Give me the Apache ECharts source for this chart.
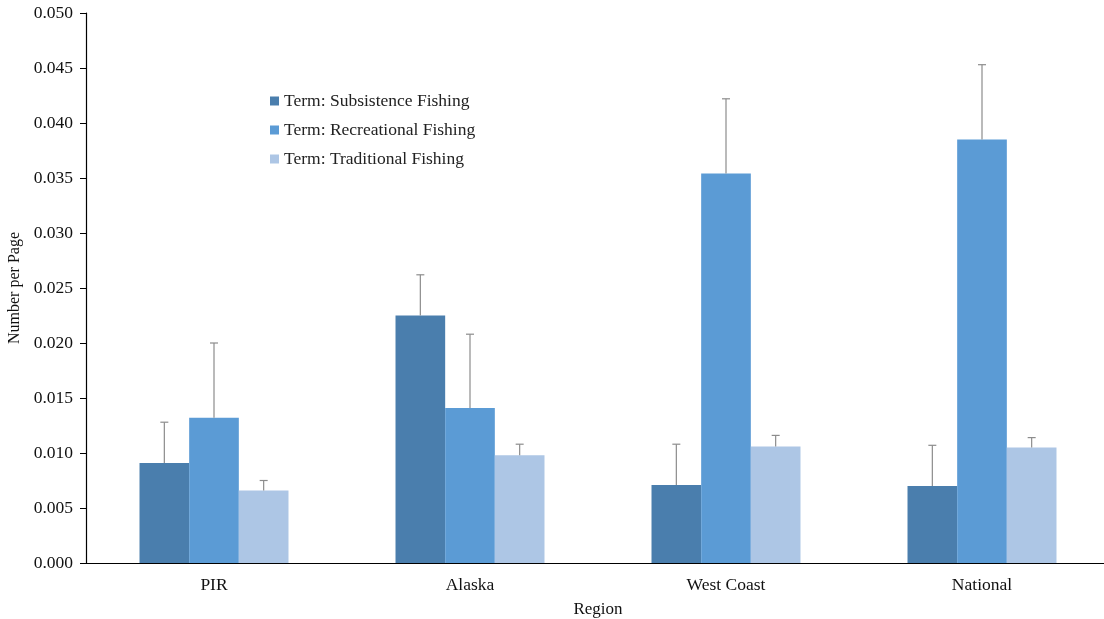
<!DOCTYPE html>
<html>
<head>
<meta charset="utf-8">
<script src="https://cdn.jsdelivr.net/npm/echarts@6/dist/echarts.min.js"></script>
<style>html,body{margin:0;padding:0;background:#fff}#c{width:1104px;height:619px}</style>
</head>
<body>
<div id="c"></div>
<script>
const categories = ['PIR', 'Alaska', 'West Coast', 'National'];
const seriesNames = ['Term: Subsistence Fishing', 'Term: Recreational Fishing', 'Term: Traditional Fishing'];
const subsistence = [0.0091, 0.0225, 0.0071, 0.0070];
const recreational = [0.0132, 0.0141, 0.0354, 0.0385];
const traditional = [0.0066, 0.0098, 0.0106, 0.0105];
const subsistenceErr = [0.0037, 0.0037, 0.0037, 0.0037];
const recreationalErr = [0.0068, 0.0067, 0.0068, 0.0068];
const traditionalErr = [0.0009, 0.0010, 0.0010, 0.0009];
const yTicks = ['0.000','0.005','0.010','0.015','0.020','0.025','0.030','0.035','0.040','0.045','0.050'];

const colors = ['#4a7ead', '#5b9bd5', '#adc6e5'];
const values = [subsistence, recreational, traditional];
const errors = [subsistenceErr, recreationalErr, traditionalErr];
const BAR_FRAC = 0.194;
const font = 'Liberation Serif';

const chart = echarts.init(document.getElementById('c'));

function errSeries(idx) {
  const data = values[idx].map((v, i) => [i, v, v + errors[idx][i]]);
  return {
    type: 'custom',
    name: 'err' + idx,
    silent: true,
    z: 10,
    data: data,
    encode: { x: 0, y: [1, 2] },
    renderItem: function (params, api) {
      const ci = api.value(0);
      const band = api.size([1, 0])[0];
      const off = (idx - 1) * band * BAR_FRAC;
      const lo = api.coord([ci, api.value(1)]);
      const hi = api.coord([ci, api.value(2)]);
      const x = lo[0] + off;
      const style = { stroke: '#8c8c8c', lineWidth: 1.2 };
      return {
        type: 'group',
        children: [
          { type: 'line', shape: { x1: x, y1: lo[1], x2: x, y2: hi[1] }, style: style },
          { type: 'line', shape: { x1: x - 4, y1: hi[1], x2: x + 4, y2: hi[1] }, style: style }
        ]
      };
    }
  };
}

const barSeries = seriesNames.map((n, idx) => ({
  type: 'bar',
  name: n,
  data: values[idx],
  barWidth: (BAR_FRAC * 100) + '%',
  barGap: '0%',
  itemStyle: { color: colors[idx] }
}));

chart.setOption({
  animation: false,
  backgroundColor: '#fff',
  textStyle: { fontFamily: font },
  grid: { left: 86, top: 13, bottom: 56, width: 1024, containLabel: false, outerBoundsMode: 'none' },
  legend: {
    data: seriesNames,
    orient: 'vertical',
    left: 265,
    top: 87,
    itemWidth: 9,
    itemHeight: 9,
    itemGap: 11,
    icon: 'rect',
    textStyle: { fontFamily: font, fontSize: 17.5, color: '#222' }
  },
  xAxis: {
    type: 'category',
    data: categories,
    name: 'Region',
    nameLocation: 'middle',
    nameGap: 38,
    nameTextStyle: { fontFamily: font, fontSize: 17, color: '#111' },
    axisLine: { lineStyle: { color: '#000', width: 1.2 } },
    axisTick: { show: false },
    axisLabel: { fontFamily: font, fontSize: 17.5, color: '#111', margin: 13 }
  },
  yAxis: {
    type: 'value',
    min: 0,
    max: 0.05,
    interval: 0.005,
    name: 'Number per Page',
    nameLocation: 'middle',
    nameGap: 56,
    nameTextStyle: { fontFamily: font, fontSize: 16, color: '#111' },
    axisLine: { show: true, lineStyle: { color: '#000', width: 1.2 } },
    axisTick: { show: true, length: 6, lineStyle: { color: '#000' } },
    splitLine: { show: false },
    axisLabel: {
      fontFamily: font, fontSize: 17.5, color: '#111', margin: 13,
      formatter: function (v) { return yTicks[Math.round(v / 0.005)]; }
    }
  },
  series: barSeries.concat([errSeries(0), errSeries(1), errSeries(2)])
});
</script>
</body>
</html>
